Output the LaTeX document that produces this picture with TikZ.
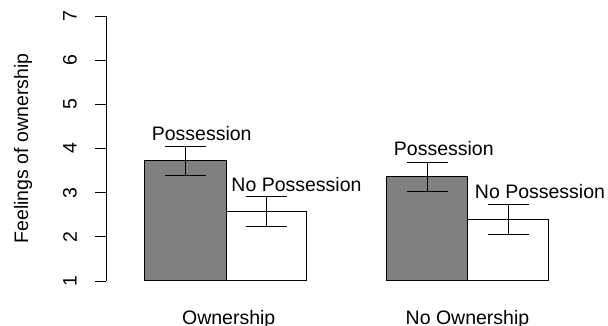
\documentclass[tikz,border=0pt]{standalone}
\usepackage{fontspec}
\setmainfont{Liberation Sans}
\begin{document}
\begin{tikzpicture}[x=1pt,y=-1pt,
  lbl/.style={inner sep=0pt,font=\fontsize{19.5}{20}\selectfont},
  axline/.style={line width=0.9pt,black},
  barg/.style={draw=black,line width=0.9pt,fill=gray!100!white,fill=black!50},
  barw/.style={draw=black,line width=0.9pt,fill=white},
  errbar/.style={line width=0.9pt,black}]
\useasboundingbox (0,0) rectangle (608,326);
% axis
\coordinate (ytop) at (106,16);
\coordinate (ybot) at (106,281);
\draw[axline] (ytop) -- (ybot);
\foreach \v in {1,...,7}{
  \pgfmathsetmacro{\yy}{281-(\v-1)*44.1667}
  \draw[axline] (95,\yy) -- (106,\yy);
  \node[lbl,rotate=90] (t\v) at (70,\yy) {\v};
}
\node[lbl,rotate=90] (ytitle) at (23,148.5) {Feelings of ownership};
% bars
\draw[barg] (144.7,280.7) rectangle (226,160.7);
\draw[barw] (226,280.7) rectangle (306,211.3);
\draw[barg] (386.7,280.7) rectangle (467.7,176.7);
\draw[barw] (467.7,280.7) rectangle (548.3,219.3);
% error bars
\foreach \cx/\hi/\lo in {185.5/146/175.3, 266/196.7/226.3, 427/162.3/191, 508/204.3/234.3}{
  \draw[errbar] (\cx,\hi) -- (\cx,\lo);
  \draw[errbar] (\cx-20.5,\hi) -- (\cx+20.5,\hi);
  \draw[errbar] (\cx-20.5,\lo) -- (\cx+20.5,\lo);
}
% labels
\node[lbl,anchor=base] (p1) at (201.7,141) {Possession};
\node[lbl,anchor=base] (np1) at (296.5,191) {No Possession};
\node[lbl,anchor=base] (p2) at (443.8,156) {Possession};
\node[lbl,anchor=base] (np2) at (540,199) {No Possession};
\node[lbl,anchor=base] (g1) at (228.7,324.5) {Ownership};
\node[lbl,anchor=base] (g2) at (467.5,324.5) {No Ownership};
\end{tikzpicture}
\end{document}
